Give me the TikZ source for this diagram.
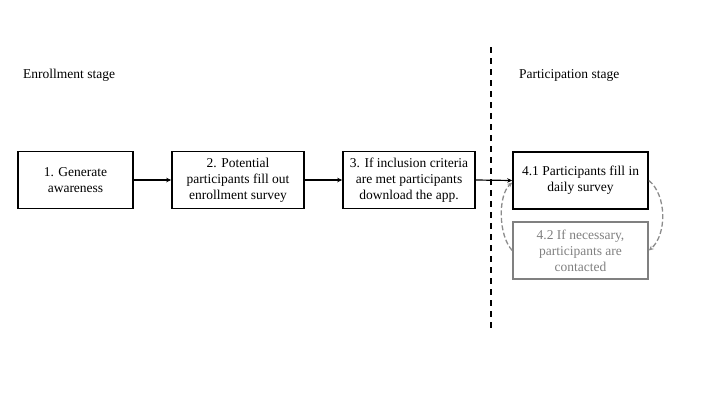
\documentclass[tikz,border=0pt]{standalone}
\usepackage{fontspec}
\setmainfont{Liberation Serif}
\usetikzlibrary{arrows.meta}
\definecolor{boxgray}{RGB}{128,128,128}
\definecolor{arrgray}{RGB}{140,140,140}
\tikzset{
  stagebox/.style={draw=black, line width=1.6pt, minimum height=57pt, align=center, inner sep=2pt, font=\fontsize{13.5}{16}\selectfont},
  graybox/.style={stagebox, draw=boxgray, text=boxgray},
  flow/.style={line width=1.2pt, -{Stealth[length=5pt,width=4.5pt]}},
  loop/.style={draw=arrgray, line width=1.3pt, dash pattern=on 5pt off 2.5pt, -{Stealth[length=5pt,width=4.5pt]}},
  divider/.style={line width=1.6pt, dash pattern=on 6pt off 5pt},
  stagelabel/.style={font=\fontsize{13.5}{16}\selectfont, anchor=west, inner sep=0pt}
}
\begin{document}
\begin{tikzpicture}[x=1pt,y=-1pt]
\useasboundingbox (0,0) rectangle (720,405);
\node[stagelabel] (enr) at (23,75) {Enrollment stage};
\node[stagelabel] (par) at (519,75) {Participation stage};
\coordinate (dtop) at (491,47);
\coordinate (dbot) at (491,330);
\draw[divider] (dtop) -- (dbot);
\node[stagebox, minimum width=115pt] (b1) at (75.5,180) {1. Generate\\awareness};
\node[stagebox, minimum width=132pt] (b2) at (238,180) {2. Potential\\participants fill out\\enrollment survey};
\node[stagebox, minimum width=132pt] (b3) at (409,180) {3. If inclusion criteria\\are met participants\\download the app.};
\node[stagebox, minimum width=135pt] (b41) at (580.5,180.5) {4.1 Participants fill in\\daily survey};
\node[graybox, minimum width=135pt] (b42) at (580.5,250.5) {4.2 If necessary,\\participants are\\contacted};
\draw[flow] (b1) -- (b2);
\draw[flow] (b2) -- (b3);
\draw[flow] (b3.east) -- (b41.west);
\draw[loop] (b42.west) .. controls (498,235) and (498,195) .. ([yshift=-2pt]b41.west);
\draw[loop] (b41.east) .. controls (667,195) and (667,235) .. (b42.east);
\end{tikzpicture}
\end{document}
